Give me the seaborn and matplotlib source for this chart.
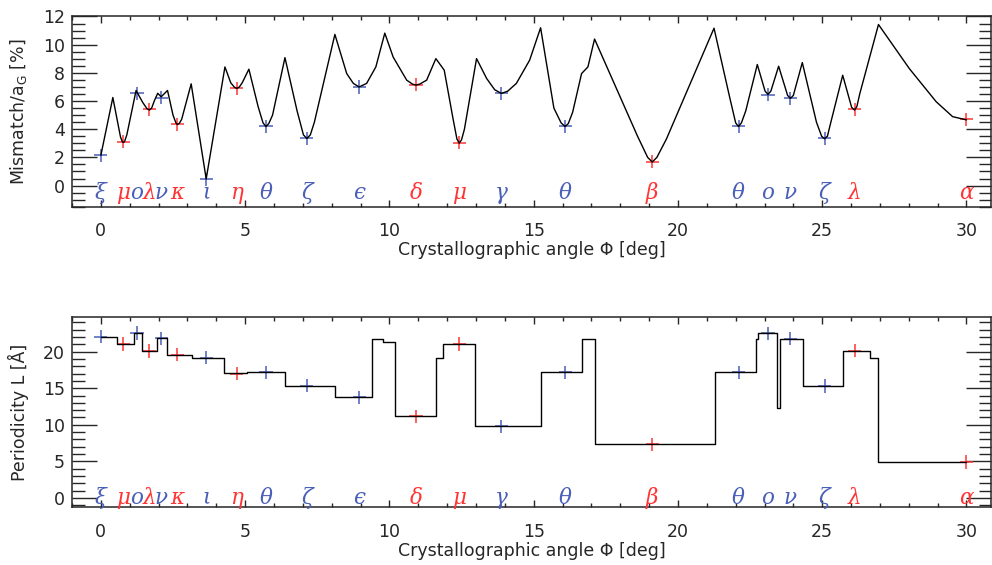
import numpy as np
import pandas as pd
import matplotlib
matplotlib.use("Agg")
import matplotlib.pyplot as plt
from matplotlib.ticker import MultipleLocator
import seaborn as sns

# structure labels, their angles and colours
names = ["ξ", "μ", "ο", "λ", "ν", "κ", "ι", "η", "θ", "ζ", "ϵ",
         "δ", "μ", "γ", "θ", "β", "θ", "ο", "ν", "ζ", "λ", "α"]
kinds = ["b", "r", "b", "r", "b", "r", "b", "r", "b", "b", "b",
         "r", "r", "b", "b", "r", "b", "b", "b", "b", "r", "r"]
phi_marks = [0.0, 0.78, 1.25, 1.68, 2.09, 2.65, 3.65, 4.71, 5.72, 7.14, 8.95,
             10.92, 12.42, 13.88, 16.09, 19.11, 22.1, 23.12, 23.9, 25.08, 26.12, 30.0]
mis_marks = [2.15, 3.1, 6.55, 5.4, 6.25, 4.35, 0.45, 6.9, 4.2, 3.35, 7.0,
             7.15, 3.05, 6.55, 4.2, 1.7, 4.2, 6.45, 6.2, 3.35, 5.4, 4.7]
per_marks = [22.05, 21.05, 22.55, 20.1, 21.8, 19.6, 19.15, 17.0, 17.2, 15.35, 13.75,
             11.15, 21.05, 9.8, 17.2, 7.35, 17.2, 22.5, 21.75, 15.3, 20.15, 4.9]

# mismatch curve
phi_mis = [0.0, 0.415, 0.68, 0.74, 0.78, 0.82, 0.9, 1.22, 1.45, 1.6, 1.68, 1.76,
           1.85, 1.97, 2.09, 2.31, 2.5, 2.6, 2.65, 2.72, 2.8, 3.13, 3.65, 4.30,
           4.5, 4.63, 4.71, 4.8, 4.9, 5.13, 5.45, 5.62, 5.72, 5.82, 5.95, 6.38,
           6.8, 7.02, 7.14, 7.26, 7.4, 8.11, 8.52, 8.75, 8.95, 9.21, 9.53, 9.84,
           10.13, 10.6, 10.8, 10.92, 11.05, 11.29, 11.61, 11.90, 12.2, 12.34,
           12.42, 12.5, 12.6, 13.02, 13.37, 13.65, 13.88, 14.1, 14.4, 14.86,
           15.24, 15.7, 15.95, 16.09, 16.2, 16.35, 16.66, 16.88, 17.11, 18.6,
           18.95, 19.11, 19.27, 19.6, 21.25, 21.8, 22.0, 22.1, 22.2, 22.35,
           22.75, 23.02, 23.12, 23.22, 23.49, 23.8, 23.9, 24.0, 24.31, 24.8,
           24.98, 25.08, 25.18, 25.3, 25.71, 26.02, 26.12, 26.2, 26.3, 26.95,
           28.02, 28.95, 29.52, 30.0]
mismatch = [2.15, 6.25, 3.45, 3.12, 3.06, 3.12, 3.6, 6.75, 5.9, 5.45, 5.36, 5.5,
            6.0, 6.55, 6.3, 6.75, 5.0, 4.45, 4.33, 4.42, 4.7, 7.22, 0.47, 8.42,
            7.3, 6.98, 6.89, 7.0, 7.3, 8.26, 5.6, 4.45, 4.19, 4.4, 5.0, 9.08,
            5.3, 3.6, 3.34, 3.6, 4.5, 10.73, 7.95, 7.25, 7.0, 7.25, 8.42, 10.82,
            9.12, 7.48, 7.2, 7.13, 7.2, 7.48, 9.01, 8.19, 4.8, 3.3,
            3.01, 3.25, 4.0, 9.01, 7.6, 6.8, 6.54, 6.7, 7.25, 8.9,
            11.2, 5.5, 4.45, 4.19, 4.4, 5.2, 7.95, 8.42, 10.4, 3.5,
            2.0, 1.67, 2.0, 3.3, 11.17, 6.2, 4.45, 4.19, 4.45, 5.3,
            8.59, 6.7, 6.47, 6.7, 8.47, 6.4, 6.19, 6.4, 8.73, 4.5,
            3.5, 3.32, 3.5, 4.5, 7.83, 5.55, 5.36, 5.6, 6.5, 11.43,
            8.3, 5.95, 4.89, 4.66]

# periodicity steps (level starts at each angle)
phi_per = [0.0, 0.55, 1.15, 1.42, 1.96, 2.28, 3.15, 4.25, 5.06, 6.38, 8.11, 9.38,
           9.79, 10.21, 11.63, 11.86, 12.96, 15.24, 16.68, 17.13, 21.27, 22.71,
           22.78, 23.45, 23.52, 24.33, 25.71, 26.64, 26.93, 30.0]
periodicity = [22.0, 21.05, 22.5, 20.15, 21.8, 19.6, 19.15, 17.05, 17.2, 15.35, 13.8,
               21.75, 21.3, 11.15, 19.15, 21.05, 9.8, 17.2, 21.75, 7.35, 17.2, 21.75,
               22.5, 12.3, 21.75, 15.3, 20.15, 19.15, 4.9, 4.9]

blue = "#4a5fb8"
red = "#ff3535"
pal = {"b": blue, "r": red}

sns.set_theme(style="ticks")
plt.rcParams["font.family"] = ["DejaVu Sans"]
plt.rcParams["font.size"] = 12.5

marks = pd.DataFrame({"phi": phi_marks, "mis": mis_marks, "per": per_marks,
                      "kind": kinds, "name": names})
mis_df = pd.DataFrame({"phi": phi_mis, "mis": mismatch})
per_df = pd.DataFrame({"phi": phi_per, "per": periodicity})

fig = plt.figure(figsize=(9.92, 5.65), dpi=100)
ax1 = fig.add_axes([0.0726, 0.6342, 0.9264, 0.3366])
ax2 = fig.add_axes([0.0726, 0.1021, 0.9264, 0.3363])

sns.scatterplot(data=marks, x="phi", y="mis", hue="kind", palette=pal, marker="+",
                s=90, linewidth=1.1, legend=False, ax=ax1, zorder=2)
sns.lineplot(data=mis_df, x="phi", y="mis", color="black", linewidth=1.0,
             sort=False, ax=ax1, zorder=3)

sns.scatterplot(data=marks, x="phi", y="per", hue="kind", palette=pal, marker="+",
                s=90, linewidth=1.1, legend=False, ax=ax2, zorder=2)
sns.lineplot(data=per_df, x="phi", y="per", color="black", linewidth=1.0,
             sort=False, drawstyle="steps-post", ax=ax2, zorder=3)

for ax, ylo, yhi, ymaj, ymin, label_y in [(ax1, -1.5, 12, 2, 0.5, -0.5),
                                           (ax2, -1.3, 24.7, 5, 1, 0.0)]:
    ax.set_xlim(-1, 30.85)
    ax.set_ylim(ylo, yhi)
    ax.xaxis.set_major_locator(MultipleLocator(5))
    ax.xaxis.set_minor_locator(MultipleLocator(1))
    ax.yaxis.set_major_locator(MultipleLocator(ymaj))
    ax.yaxis.set_minor_locator(MultipleLocator(ymin))
    ax.tick_params(axis="x", which="major", direction="in", length=5, width=1,
                   top=True, bottom=True, pad=11, labelsize=12.5)
    ax.tick_params(axis="x", which="minor", direction="in", length=3, width=1,
                   top=True, bottom=True)
    ax.tick_params(axis="y", which="major", direction="in", length=18, width=1,
                   left=True, right=True, pad=5, labelsize=12.5)
    ax.tick_params(axis="y", which="minor", direction="in", length=9, width=1,
                   left=True, right=True)
    for sp in ax.spines.values():
        sp.set_visible(True)
        sp.set_linewidth(1.1)
    ax.set_xlabel("Crystallographic angle Φ [deg]", fontsize=12.5, labelpad=1)
    for x, t, k in zip(phi_marks, names, kinds):
        ax.text(x, label_y, t, color=pal[k], fontsize=15.5, ha="center", va="center",
                family=["DejaVu Serif"], style="italic", zorder=4)

ax1.set_ylabel("Mismatch/a$_{\\rm G}$ [%]", fontsize=12.5, labelpad=10)
ax2.set_ylabel("Periodicity L [Å]", fontsize=12.5, labelpad=10)

fig.savefig("out.png", dpi=100)
